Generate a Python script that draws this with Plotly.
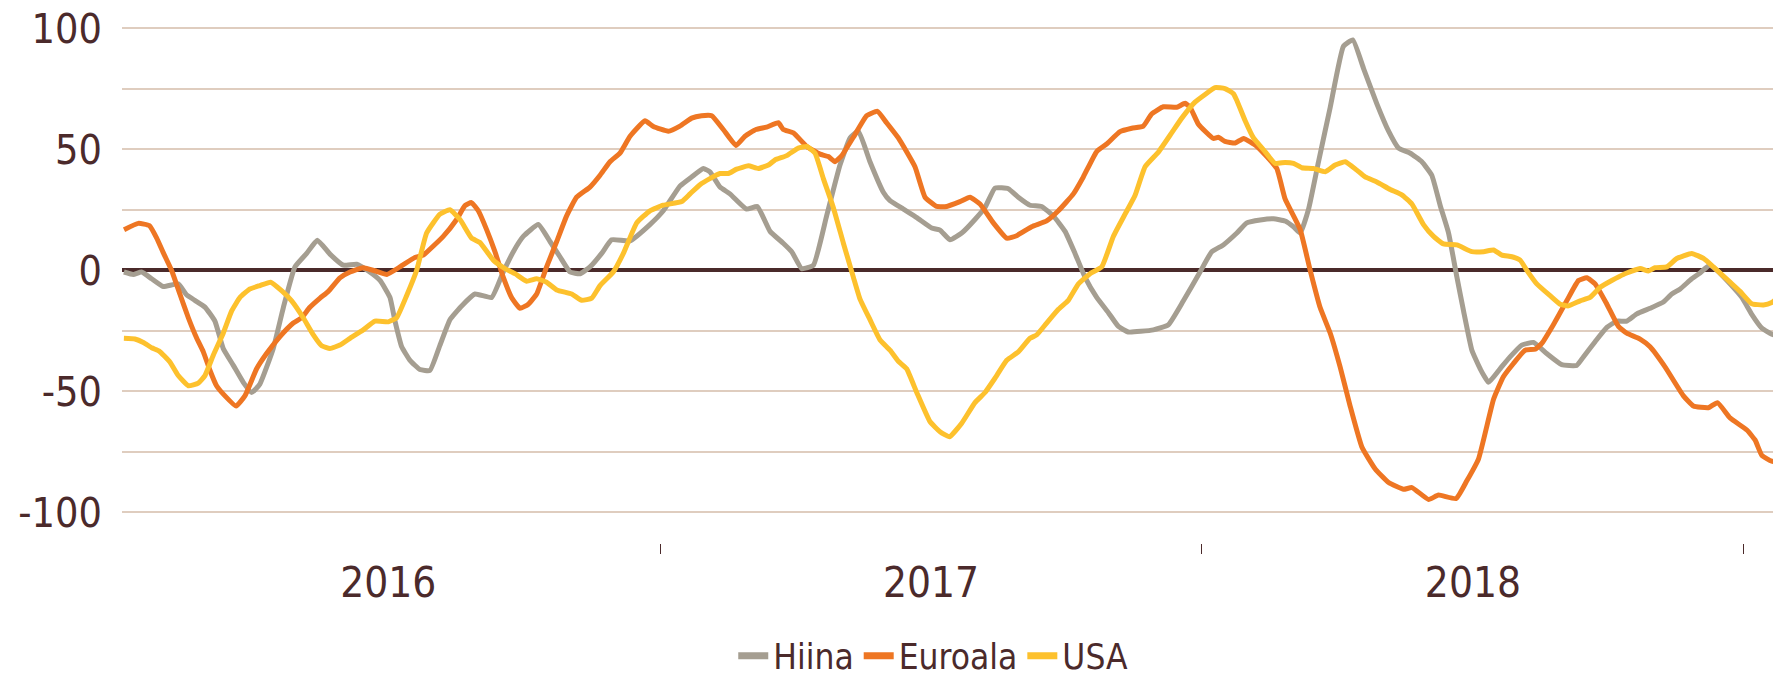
import pandas as pd
import plotly.graph_objects as go

# ---- data (x = days since BASE_DATE, y = index value) ----
BASE_DATE = "2016-01-01"
SERIES_NAMES = ["Hiina", "Euroala", "USA"]

HIINA = [
    (4.9, -0.7), (11.2, -1.7), (16.8, -0.7), (23.6, -3.5), (31.4, -6.7), (41.5, -5.6),
    (47.1, -10.1), (52.7, -12.4), (59.5, -15.2), (66.2, -21), (71.8, -32.3), (78.6, -39.3),
    (85.3, -46.3), (90.9, -50.5), (96.5, -47), (105.5, -32.3), (112.3, -15.4), (120.1, 1.4),
    (128, 7), (135.2, 12.4), (143.7, 6.7), (152.7, 2.1), (161.7, 2.5), (169.5, -0.3),
    (177.4, -4.2), (184.1, -11.2), (187.5, -21), (192, -31.6), (197.6, -37.2), (204.3, -41),
    (211, -41.4), (217.8, -30.9), (224.5, -20.4), (232.4, -14.7), (241.4, -9.8), (252.6, -11.2),
    (260.4, -0.7), (267.2, 7.7), (273.9, 14), (284, 18.9), (291.9, 11.9), (298.6, 5.6),
    (305.4, -0.7), (312.1, -1.4), (318.8, 1.4), (326.7, 7), (333.4, 12.6), (345.8, 12.2),
    (359.2, 18.9), (368.2, 24.6), (379.4, 34.8), (387.3, 38.6), (395.2, 42.1), (399.6, 40.7),
    (406.4, 34.4), (413.1, 31.6), (424.3, 25.3), (431.5, 26.4), (440.1, 16.1), (449, 11.2),
    (454.7, 7.7), (461.4, 0.7), (469.3, 2.1), (478.2, 22.5), (487.2, 43.5), (494, 54.7),
    (499.6, 57.5), (507.4, 44.9), (516.4, 32.3), (520.9, 28.8), (529.9, 25.3), (538.9, 21.8),
    (549, 17.5), (554.6, 16.6), (561.3, 12.6), (569.2, 15.4), (578.1, 21), (584.9, 26),
    (591.6, 34), (600.6, 33.7), (607.3, 30.2), (615.2, 26.9), (623, 26.4), (630.9, 22.5),
    (638.8, 16.1), (645.5, 7), (652.2, -2.8), (660.1, -11.2), (668, -17.5), (674.7, -23.2),
    (681.4, -25.5), (698.3, -24.6), (708.4, -22.5), (718.5, -12.6), (729.7, -0.7), (737.6, 7.7),
    (745.4, 10.5), (754.5, 15.4), (761.2, 19.6), (770.2, 20.8), (779.2, 21.3), (787, 20.4),
    (792.7, 18), (797.2, 15.4), (802.8, 25.3), (809.5, 44.9), (817.4, 67.4), (826.3, 92.6),
    (832.6, 95.2), (839.8, 83.5), (848.8, 68.8), (856.7, 57.5), (863.4, 50.5), (871.3, 48.4),
    (879.1, 44.9), (885.8, 39.3), (891.5, 26.7), (897.1, 15.4), (902.7, -2.8), (907.2, -16.8),
    (912.8, -33), (918.4, -40.7), (924, -46.3), (931.9, -40.6), (938.5, -35.8), (946.4, -30.9),
    (954.3, -29.8), (963.2, -34.4), (973.3, -39), (983.4, -39.3), (987.9, -35.8), (995.8, -29.5),
    (1003.7, -23.6), (1010.4, -21), (1017.1, -21), (1023.9, -18), (1032.8, -15.7), (1041.8, -13.1),
    (1047.4, -9.8), (1053.1, -7.7), (1060.9, -3.5), (1066.5, -1.1), (1072.8, 2.1), (1077.8, 0),
    (1086.7, -5.6), (1094.6, -11.2), (1101.3, -18.2), (1108.1, -23.9), (1114.8, -26.4), (1121.5, -27.4),
]

EUROALA = [
    (5, 16.8), (14.6, 19.4), (22, 18.5), (27, 13.3), (31.4, 7.3), (37, 0), (42.6, -9.8),
    (48.3, -19.6), (53.9, -28), (58.4, -33.7), (62.9, -41.4), (67.3, -47.7), (73, -51.9),
    (80.4, -56.1), (86.4, -51.9), (94.3, -40.7), (101, -34.4), (110, -27.4), (119, -21.8),
    (124.6, -19.6), (130, -15.4), (137, -11.5), (142.6, -8.7), (150.4, -3.1), (157.2, -0.7),
    (166, 1.1), (175, -0.4), (182, -1.7), (190.8, 1.4), (200.9, 5.3), (206.6, 6.3), (211, 8.7),
    (220, 14), (229, 21), (234.6, 26.7), (239, 28), (243.6, 24.6), (249.2, 16.8), (254.8, 7.7),
    (260.4, -2.8), (266, -11.2), (271.7, -15.7), (277.3, -14), (282.9, -9.8), (289.6, 1.4),
    (296.4, 11.9), (303.1, 22.5), (309.8, 30.2), (318.8, 34.4), (325.6, 39.3), (332.3, 44.9),
    (339, 48.4), (345.8, 55.4), (355.9, 61.8), (361.5, 59.4), (371.6, 57.5), (379.4, 59.6),
    (387.3, 62.9), (394, 63.9), (400.8, 63.9), (408.6, 58.2), (417.2, 51.6), (423.2, 55.4),
    (430.6, 58.2), (437.8, 59.2), (445.7, 61), (449, 58.2), (455.8, 56.8), (464.8, 51.2),
    (473.7, 48), (479.4, 47), (483.8, 44.9), (488.3, 47.3), (497.3, 56.1), (505.2, 63.9),
    (512.4, 65.7), (518.6, 61), (526.5, 54.7), (537.7, 42.8), (544.5, 30.2), (552.3, 26.4),
    (559.1, 26.4), (568, 28.4), (574.8, 30.2), (581.5, 27.4), (590.5, 19.6), (599.5, 13.3),
    (606.2, 14.3), (616.3, 18), (626.4, 20.4), (634.3, 24.6), (644.4, 31.6), (651.1, 38.6),
    (660.1, 49.1), (666.8, 52.2), (675.8, 57.3), (683.7, 58.7), (691.5, 59.6), (697.1, 64.6),
    (705, 67.6), (714, 67.4), (719.6, 69), (723, 67.4), (728.6, 60.4), (738.7, 54.5),
    (742, 55), (746.5, 53.3), (753.4, 52.6), (759, 54.5), (768, 51.2), (774.7, 47),
    (781.4, 42.1), (787, 29.5), (792.7, 22.5), (797.2, 16.8), (803.9, 0), (810.6, -15.4),
    (817.4, -26), (824.1, -40), (830.8, -56.1), (838.7, -73), (847.7, -82.1), (856.7, -87.7),
    (866.8, -90.5), (872.4, -89.8), (883.6, -94.7), (890.3, -92.9), (902.2, -94.3), (909.4, -87),
    (917.3, -77.9), (927.4, -53.3), (934, -44), (940.8, -38.5), (948.6, -33), (955.4, -32.6),
    (959.9, -30.2), (967.7, -22.5), (976.7, -12.6), (984.6, -4.2), (990.2, -3.1), (995.8, -5.6),
    (1003.7, -14), (1011.5, -23.2), (1017.1, -26), (1026.1, -28.4), (1032.8, -31.6), (1043, -40),
    (1055.3, -51.9), (1062, -56.1), (1072.1, -56.8), (1078.2, -54.7), (1086.7, -61), (1098, -66),
    (1103.6, -70.2), (1108.1, -76.5), (1114.8, -78.9), (1121.5, -79.3),
]

USA = [
    (4.9, -28.1), (12.3, -28.4), (18, -29.8), (23.6, -32), (28.7, -33.4), (35.9, -37.9),
    (41.5, -43.5), (48.3, -47.7), (55, -46.6), (59.5, -43.5), (65.1, -35.1), (71.8, -26),
    (77.5, -16.8), (83.1, -11.2), (89.8, -7.7), (96.5, -6.3), (103.7, -4.9), (111.1, -8.4),
    (117.9, -12.6), (125.7, -19.6), (132.5, -26.7), (138.1, -31.2), (143.7, -32.3), (150.4, -30.9),
    (157.2, -28.1), (166.1, -24.6), (174, -21), (183, -21.3), (188.6, -19.6), (195.3, -10.5),
    (202.1, 0), (208.8, 15.4), (217.8, 23.2), (224.5, 25), (231.3, 21), (239.1, 13.3),
    (244.7, 11.5), (253.7, 4.2), (261.6, 0.7), (268.3, -1.4), (276.2, -4.5), (282.9, -3.5),
    (289.6, -4.9), (296.4, -8.1), (306.5, -9.8), (313.2, -12.4), (320, -11.5), (325.6, -6.3),
    (334.5, -0.7), (341.3, 7), (350.3, 19.6), (359.2, 24.6), (368.2, 26.9), (380.6, 28.4),
    (386.2, 31.6), (392.9, 35.4), (399.6, 37.9), (406.4, 40), (412, 40), (417.6, 41.8),
    (425.5, 43.2), (432.2, 42.1), (439, 43.5), (443.4, 45.6), (451.3, 47.4), (459.1, 50.5),
    (464.8, 51.2), (470.4, 48.4), (476, 37.9), (482.7, 26), (489.5, 11.2), (496.2, -2.8),
    (500.7, -11.9), (507.4, -20.4), (514.2, -28.8), (520.9, -33), (526.5, -37.6), (532.1, -40.7),
    (538.9, -50.5), (547.8, -62.5), (554.6, -66.7), (560.9, -68.8), (569.2, -63.2), (578.1, -54.7),
    (584.9, -50.5), (591.6, -44.6), (599.5, -37.2), (607.3, -33.7), (615.2, -28.1), (619.7, -26.7),
    (626.4, -21.8), (634.3, -16.1), (641, -12.4), (647.8, -5.6), (655.6, -1.4), (663.5, 1.4),
    (671.3, 14), (679.2, 23.2), (685.9, 30.9), (692.7, 42.8), (701.6, 48.8), (710.6, 56.8),
    (717.4, 62.9), (726.3, 69.5), (733.1, 72.7), (739.8, 75.5), (746.5, 75.1), (752.2, 73),
    (754.5, 70.2), (760.1, 61.8), (765.7, 54.7), (772.5, 49.8), (780.3, 44.2), (787, 44.6),
    (792.7, 44.2), (798.3, 42.4), (806.1, 42.1), (814, 40.7), (820.7, 43.5), (827.5, 44.9),
    (835.3, 41.4), (840.9, 38.6), (848.8, 36.5), (857.8, 33.4), (865.6, 31.2), (872.4, 27.4),
    (880.2, 18.9), (887, 14), (893.7, 10.9), (902.7, 10.5), (912.8, 7.7), (920.7, 7.7),
    (927.4, 8.4), (933, 6.3), (939.7, 5.6), (945.3, 4.2), (949.8, 0), (956.5, -5.6),
    (965.5, -10.5), (972.2, -14), (977.8, -14.7), (985.7, -12.6), (992.4, -11.2), (999.2, -7),
    (1007, -4.2), (1014.9, -1.7), (1026.1, 0.7), (1031.7, -0.3), (1036.2, 1.1), (1044.1, 1.4),
    (1050.8, 4.9), (1060.9, 7), (1068.8, 4.9), (1075.5, 1.4), (1086.7, -4.9), (1093.4, -8.7),
    (1101.3, -13.8), (1109.2, -14.3), (1114.8, -13.3), (1121.5, -10.1),
]

Y_TICKS = [-100, -75, -50, -25, 0, 25, 50, 75, 100]
Y_LABELS = ["-100", "", "-50", "", "0", "", "50", "", "100"]

COLORS = {"Hiina": "#a59e91", "Euroala": "#ee7623", "USA": "#fdc12d"}
TEXT = "#4b2a2b"
FONT = "Liberation Sans Narrow, DejaVu Sans Condensed, Roboto Condensed, Roboto, sans-serif"


def split(points):
    days = [p[0] for p in points]
    vals = [p[1] for p in points]
    dates = pd.Timestamp(BASE_DATE) + pd.to_timedelta(days, unit="D")
    return dates, vals


fig = go.Figure()
for name, pts in zip(SERIES_NAMES, [HIINA, EUROALA, USA]):
    d, v = split(pts)
    fig.add_trace(go.Scatter(
        x=d, y=v, name=name, mode="lines", showlegend=False, legendgroup=name,
        line=dict(color=COLORS[name], width=5, shape="spline", smoothing=0.4),
        hoverinfo="x+y+name",
    ))
# legend entries (thicker swatches, as in the original)
for name in SERIES_NAMES:
    fig.add_trace(go.Scatter(
        x=[None], y=[None], name=name, mode="lines", legendgroup=name,
        line=dict(color=COLORS[name], width=7), showlegend=True,
    ))

# the page's default 8px body margin offsets the figure, so it is sized to fit the window
fig.update_layout(
    width=1773, height=670,
    margin=dict(l=114, r=0, t=1, b=135, autoexpand=False),
    paper_bgcolor="white", plot_bgcolor="white",
    font=dict(family=FONT, color=TEXT),
    showlegend=True,
    legend=dict(
        orientation="h",
        x=0.489, xanchor="center", y=-0.2116, yanchor="middle",
        font=dict(size=35, color=TEXT), itemwidth=30, bgcolor="rgba(0,0,0,0)",
    ),
)

fig.update_xaxes(
    type="date",
    range=["2016-01-04 15:00", "2019-01-26"],
    tick0="2016-01-01", dtick="M12", tickformat="%Y",
    ticklabelmode="period",
    ticks="outside", ticklen=10, tickwidth=1, tickcolor=TEXT,
    showgrid=False, showline=False, zeroline=False,
    tickfont=dict(size=42, color=TEXT),
    ticklabelstandoff=-7,
    ticklabeloverflow="allow",
    automargin=False,
)

fig.update_yaxes(
    range=[-112.7, 108],
    tickmode="array", tickvals=Y_TICKS, ticktext=Y_LABELS,
    showgrid=True, gridcolor="#dfcdbf", gridwidth=1.5,
    zeroline=True, zerolinecolor="#4a2a2a", zerolinewidth=4,
    ticks="", showline=False,
    tickfont=dict(size=41, color=TEXT),
    ticklabelstandoff=19,
    ticklabeloverflow="allow",
    automargin=False,
)

fig.write_html("out.html")
